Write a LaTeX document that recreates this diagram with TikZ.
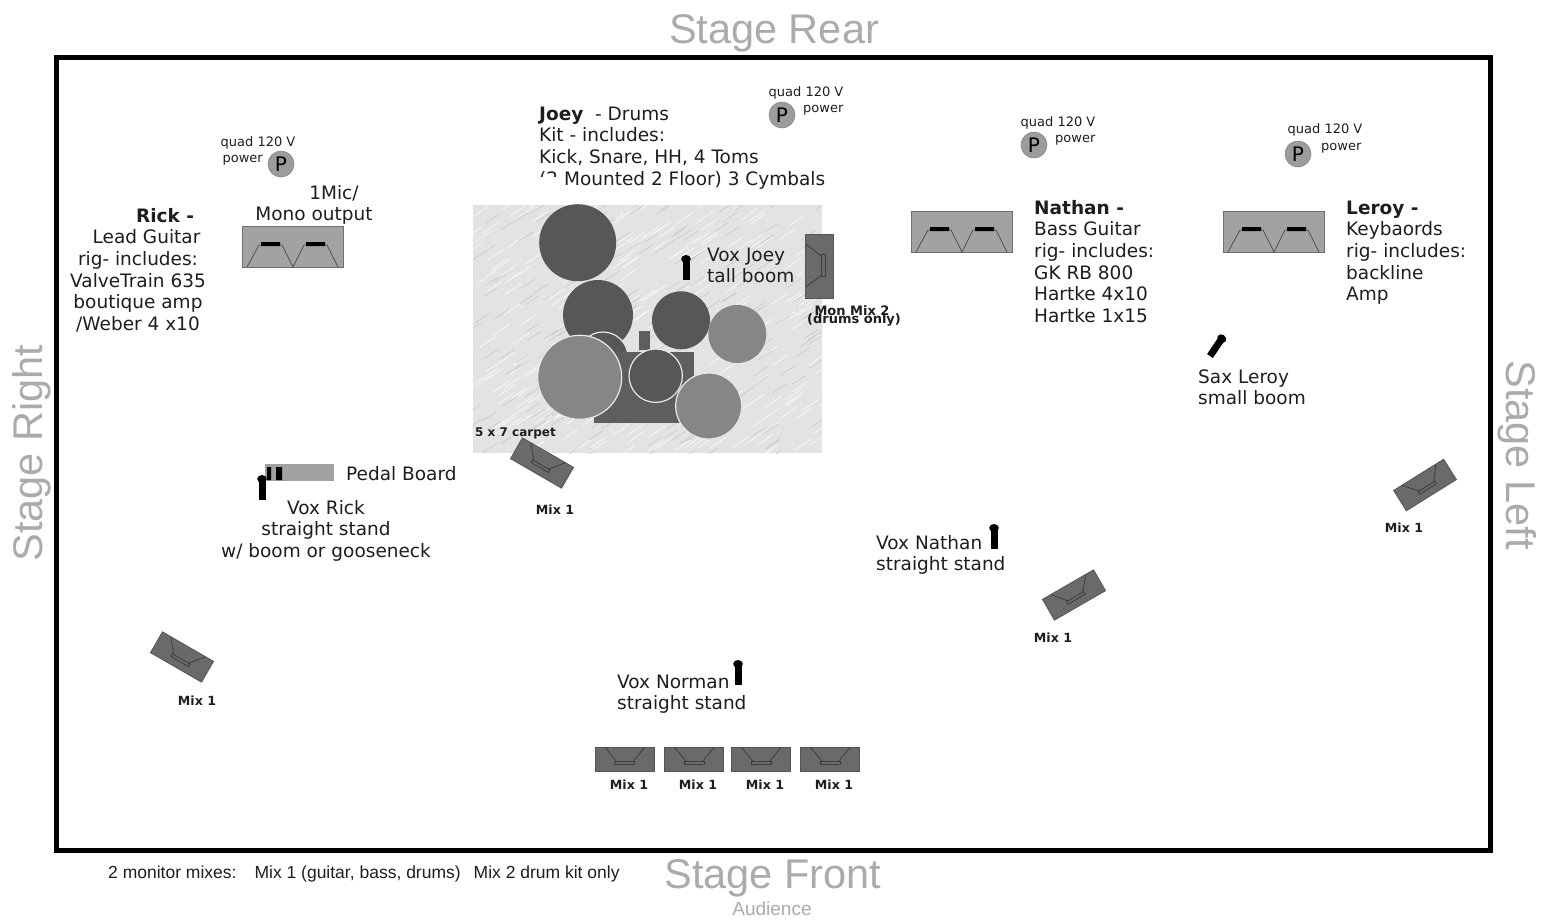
\documentclass[tikz,border=0pt]{standalone}
\usepackage{fontspec}
\setmainfont{DejaVu Sans}
\newfontfamily\arialfont{Liberation Sans}
\definecolor{titlegray}{HTML}{ABABAB}
\definecolor{pgray}{HTML}{9C9C9C}
\definecolor{wedgefill}{HTML}{6A6A6A}
\definecolor{wedgeedge}{HTML}{555555}
\definecolor{wedgeline}{HTML}{3E3E3E}
\definecolor{ampfill}{HTML}{A2A2A2}
\definecolor{ampedge}{HTML}{707070}
\definecolor{ampline}{HTML}{505050}
\definecolor{carpet}{HTML}{E3E3E3}
\definecolor{drumdark}{HTML}{575757}
\definecolor{drumlight}{HTML}{868686}
\definecolor{kick}{HTML}{5E5E5E}
\definecolor{rimwhite}{HTML}{E8E8E8}
\definecolor{ink}{HTML}{1E1E1E}
\tikzset{
  txt/.style={font=\fontsize{18.5}{21.7}\selectfont, inner sep=0pt, text=ink},
  smalltxt/.style={font=\fontsize{13}{15}\selectfont, inner sep=0pt, text=ink},
  mixlbl/.style={font=\bfseries\fontsize{12.6}{14}\selectfont, inner sep=0pt, text=ink},
  titletxt/.style={font=\arialfont\fontsize{41.5}{44}\selectfont, text=titlegray, inner sep=0pt},
  pwr/.style={circle, fill=pgray, draw=pgray!85!black, line width=0.6pt, minimum size=26pt, inner sep=0pt, font=\fontsize{20}{20}\selectfont},
  wedge/.pic={
    \path[fill=wedgefill, draw=wedgeedge, line width=0.8pt] (-29.5,-12) rectangle (29.5,12);
    \draw[wedgeline, line width=0.8pt] (-19.7,-12) -- (-8,2.3) (8.7,2.3) -- (20.3,-12);
    \draw[wedgeline, line width=0.8pt] (-9.7,2) rectangle (10.3,5);
  },
  amp/.pic={
    \path[fill=ampfill, draw=ampedge, line width=0.8pt] (0,0) rectangle (101,41);
    \draw[ampline, line width=0.8pt] (5,41) -- (17,19) -- (40,19) -- (51,41) -- (62,19) -- (85,19) -- (96,41);
    \fill[black] (19,16) rectangle (38,20) (64,16) rectangle (83,20);
  },
  mic/.pic={
    \fill[black] (-3.5,0) rectangle (3.5,-20);
    \fill[black] (0,-21) ellipse [x radius=4.8, y radius=4];
  }
}
\begin{document}
\begin{tikzpicture}[x=1pt,y=-1pt]
\useasboundingbox (0,0) rectangle (1547,919);
\fill[white] (0,0) rectangle (1547,919);

% titles
\node[titletxt, anchor=base] (rear) at (774,43) {Stage Rear};
\node[titletxt, anchor=base] (front) at (773,888) {Stage Front};
\node[titletxt, anchor=base, rotate=90] (sright) at (42,453) {Stage Right};
\node[titletxt, anchor=base, rotate=-90] (sleft) at (1506,455) {Stage Left};
\node[font=\arialfont\fontsize{19}{20}\selectfont, text=titlegray, anchor=base, inner sep=0pt] (aud) at (772,915) {Audience};
\node[font=\arialfont\fontsize{17.5}{20}\selectfont, text=ink, anchor=base west, inner sep=0pt] (note) at (108,878)
  {2 monitor mixes:\hspace{18pt}Mix 1 (guitar, bass, drums)\hspace{13pt}Mix 2 drum kit only};

% stage outline
\draw[line width=5pt] (56,57) rectangle (1490,850);

% carpet
\path[fill=carpet] (473,205) rectangle (822,453);
\begin{scope}
  \clip (473,205) rectangle (822,453);
  \pgfmathsetseed{7}
  \foreach \i in {1,...,260}{
    \pgfmathsetmacro\xa{465+rnd*360}
    \pgfmathsetmacro\ya{205+rnd*255}
    \draw[white!80!carpet, line width=0.7pt] (\xa,\ya) -- ++(16,-11);
  }
  \foreach \i in {1,...,200}{
    \pgfmathsetmacro\xa{465+rnd*360}
    \pgfmathsetmacro\ya{205+rnd*255}
    \draw[carpet!88!black, line width=0.6pt] (\xa,\ya) -- ++(14,-9);
  }
\end{scope}
\node[font=\bfseries\fontsize{12}{14}\selectfont, inner sep=0pt, text=ink, anchor=base west] (carpetlbl) at (475,436) {5 x 7 carpet};

% drums
\fill[drumdark] (577.7,242.7) circle (38.5);
\fill[drumdark] (598,315) circle (35);
\path[fill=drumdark, draw=rimwhite, line width=1.2pt] (603,357) circle (25);
\fill[drumdark] (681,320.3) circle (29);
\fill[drumlight] (737.3,334) circle (29);
\fill[kick] (639,331) rectangle (650,350);
\fill[kick] (594,352) rectangle (694,423);
\path[fill=drumlight, draw=rimwhite, line width=1.2pt] (579.7,377.3) circle (42);
\path[fill=drumdark, draw=rimwhite, line width=1.2pt] (655.7,375.7) circle (26.7);
\path[fill=drumlight, draw=rimwhite, line width=1.2pt] (708.7,406) circle (33);

% power outlets
\node[pwr] (p1) at (281,164) {P};
\node[smalltxt, anchor=base] (q1) at (258,146) {quad 120 V};
\node[smalltxt, anchor=base east] (w1) at (263,162) {power};
\node[pwr] (p2) at (782,115) {P};
\node[smalltxt, anchor=base] (q2) at (806,96) {quad 120 V};
\node[smalltxt, anchor=base west] (w2) at (803,112) {power};
\node[pwr] (p3) at (1034,145) {P};
\node[smalltxt, anchor=base] (q3) at (1058,126) {quad 120 V};
\node[smalltxt, anchor=base west] (w3) at (1055,142) {power};
\node[pwr] (p4) at (1298,154) {P};
\node[smalltxt, anchor=base] (q4) at (1325,133) {quad 120 V};
\node[smalltxt, anchor=base west] (w4) at (1321,150) {power};

% amps
\pic at (242,226) {amp};
\pic at (911,211) {amp};
\pic at (1223,211) {amp};

% pedal board
\path[fill=ampfill] (265,464) rectangle (334,481);
\fill[black] (267,467) rectangle (271,480) (276,467) rectangle (282,480);

% mics
\pic at (262,500) {mic};
\pic at (686,280) {mic};
\pic at (994,549) {mic};
\pic at (738,685) {mic};
\pic[rotate=-34] at (1210,356) {mic};

% wedges
\pic[rotate=-30] at (182,657) {wedge};
\pic[rotate=-30] at (542,463) {wedge};
\pic[rotate=30] at (1074,595) {wedge};
\pic[rotate=32] at (1425,485) {wedge};
\pic at (624.5,759) {wedge};
\pic at (694,759) {wedge};
\pic at (761,759) {wedge};
\pic at (830,759) {wedge};
\pic[rotate=90, xscale=1.085, yscale=1.17] at (819.5,266) {wedge};

% mix labels
\node[mixlbl] (m1) at (197,701) {Mix 1};
\node[mixlbl] (m2) at (555,510) {Mix 1};
\node[mixlbl] (m3) at (1053,638) {Mix 1};
\node[mixlbl] (m4) at (1404,528) {Mix 1};
\node[mixlbl] (m5) at (629,785) {Mix 1};
\node[mixlbl] (m6) at (698,785) {Mix 1};
\node[mixlbl] (m7) at (765,785) {Mix 1};
\node[mixlbl] (m8) at (834,785) {Mix 1};
\node[mixlbl, font=\bfseries\fontsize{13}{14}\selectfont] (mon1) at (852,311) {Mon Mix 2};
\node[mixlbl, font=\bfseries\fontsize{13}{14}\selectfont] (mon2) at (854,320) {(drums only)};

% text blocks (anchor base = baseline of the last line)
\node[txt, anchor=base, align=center] (rick) at (138,330.5)
  {\hspace*{54pt}\textbf{Rick -}\\\hspace*{17pt}Lead Guitar\\rig- includes:\\ValveTrain 635\\boutique amp\\/Weber 4 x10};
\node[txt, anchor=base, align=center] (mono) at (314,220.7) {\hspace*{40pt}1Mic/\\Mono output};
\node[txt, anchor=base west, align=left] (joey) at (539,185.1)
  {\textbf{Joey}\ \ - Drums\\Kit - includes:\\Kick, Snare, HH, 4 Toms\\(2 Mounted 2 Floor) 3 Cymbals};
\fill[white] (537,177) rectangle (561,190);
\node[txt, anchor=base west, align=left] (voxjoey) at (707,282.7) {Vox Joey\\tall boom};
\node[txt, anchor=base west, align=left] (nathan) at (1034,322.5)
  {\textbf{Nathan -}\\Bass Guitar\\rig- includes:\\GK RB 800\\Hartke 4x10\\Hartke 1x15};
\node[txt, anchor=base west, align=left] (leroy) at (1346,300.8)
  {\textbf{Leroy -}\\Keybaords\\rig- includes:\\backline\\Amp};
\node[txt, anchor=base west, align=left] (sax) at (1198,404.7) {Sax Leroy\\small boom};
\node[txt, anchor=base west] (pedal) at (346,480) {Pedal Board};
\node[txt, anchor=base, align=center] (voxrick) at (326,557.4) {Vox Rick\\straight stand\\w/ boom or gooseneck};
\node[txt, anchor=base west, align=left] (voxnathan) at (876,570.7) {Vox Nathan\\straight stand};
\node[txt, anchor=base west, align=left] (voxnorman) at (617,709.7) {Vox Norman\\straight stand};
\end{tikzpicture}
\end{document}
